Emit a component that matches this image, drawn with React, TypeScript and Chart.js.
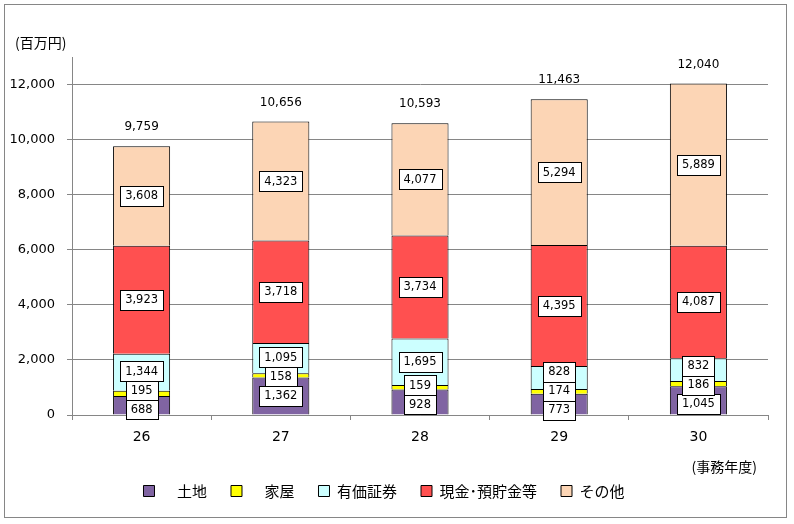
import { useEffect, useRef } from "react";
import { Chart, registerables } from "chart.js";

Chart.register(...registerables);

const categories = ["26", "27", "28", "29", "30"];
const land = [688, 1362, 928, 773, 1045];
const buildings = [195, 158, 159, 174, 186];
const securities = [1344, 1095, 1695, 828, 832];
const cash = [3923, 3718, 3734, 4395, 4087];
const others = [3608, 4323, 4077, 5294, 5889];
const totals = [9759, 10656, 10593, 11463, 12040];
const seriesLabels = ["　土地", "　家屋", "有価証券", "現金･預貯金等", "その他"];
const seriesColors = ["#8064A2", "#FFFF00", "#CCFFFF", "#FF5050", "#FCD5B5"];
const yTicks = [0, 2000, 4000, 6000, 8000, 10000, 12000];
const yUnit = "(百万円)";
const xUnit = "(事務年度)";

const fmt = (v: number) => v.toLocaleString("en-US");
const GRID = "#868686";
const JP = "'Noto Sans CJK JP', sans-serif";
const NUM = "'DejaVu Sans', sans-serif";

const framePlugin = {
  id: "frame",
  beforeDraw(chart: any) {
    const { ctx, width, height } = chart;
    ctx.save();
    ctx.fillStyle = "#fff";
    ctx.fillRect(0, 0, width, height);
    ctx.strokeStyle = GRID;
    ctx.lineWidth = 1;
    ctx.strokeRect(4.5, 4.5, 782, 513);
    ctx.restore();
  },
  afterDraw(chart: any) {
    const { ctx, chartArea } = chart;
    ctx.save();
    ctx.fillStyle = "#000";
    ctx.font = `14px ${JP}`;
    ctx.textBaseline = "middle";
    ctx.textAlign = "left";
    ctx.fillText(yUnit, chartArea.left - 57, chartArea.top - 14);
    ctx.textAlign = "right";
    ctx.fillText(xUnit, chartArea.right - 11, chartArea.bottom + 52);
    ctx.restore();
  },
};

const labelPlugin = {
  id: "segLabels",
  afterDatasetsDraw(chart: any) {
    const ctx = chart.ctx;
    ctx.save();
    ctx.textAlign = "center";
    ctx.textBaseline = "middle";
    const n = chart.data.labels.length;
    const H = 19;
    for (let i = 0; i < n; i++) {
      const items: { x: number; y: number; text: string }[] = [];
      let topY = Infinity;
      let cx = 0;
      chart.data.datasets.forEach((ds: any, di: number) => {
        const el = chart.getDatasetMeta(di).data[i];
        const { x, y, base } = el.getProps(["x", "y", "base"], true);
        items.push({ x, y: (y + base) / 2, text: fmt(ds.data[i]) });
        topY = Math.min(topY, y);
        cx = x;
      });
      items.sort((a, b) => b.y - a.y);
      for (let it = 0; it < 200; it++) {
        for (let k = 0; k < items.length - 1; k++) {
          const lo = items[k];
          const hi = items[k + 1];
          const d = lo.y - hi.y;
          if (d < H) {
            const o = (H - d) / 2;
            lo.y += o;
            hi.y -= o;
          }
        }
      }
      ctx.font = `11.5px ${NUM}`;
      items.forEach((it) => {
        const w = Math.round(ctx.measureText(it.text).width + 10);
        const h = 20;
        const bx = Math.round(it.x - w / 2) + 0.5;
        const by = Math.round(it.y - h / 2) + 0.5;
        ctx.fillStyle = "#fff";
        ctx.fillRect(bx, by, w, h);
        ctx.strokeStyle = "#000";
        ctx.lineWidth = 1;
        ctx.strokeRect(bx, by, w, h);
        ctx.fillStyle = "#000";
        ctx.fillText(it.text, it.x, it.y + 0.5);
      });
      ctx.font = `12px ${NUM}`;
      ctx.fillStyle = "#000";
      ctx.fillText(fmt(totals[i]), cx, topY - 19);
    }
    ctx.restore();
  },
};

export default function App() {
  const ref = useRef<HTMLCanvasElement | null>(null);
  useEffect(() => {
    if (!ref.current) return;
    const series = [land, buildings, securities, cash, others];
    const chart = new Chart(ref.current, {
      type: "bar",
      data: {
        labels: categories,
        datasets: series.map((d, i) => ({
          label: seriesLabels[i],
          data: d,
          backgroundColor: seriesColors[i],
          borderColor: "#000",
          borderWidth: { top: 1, left: 1, right: 1, bottom: 0 },
          borderSkipped: false,
          barPercentage: 0.41,
          categoryPercentage: 1.0,
        })),
      },
      options: {
        animation: false,
        responsive: true,
        maintainAspectRatio: false,
        layout: { padding: { top: 57, right: 26, bottom: 15.5, left: 0 } },
        plugins: {
          title: { display: false },
          tooltip: { enabled: false },
          legend: {
            position: "bottom",
            labels: {
              font: { family: JP, size: 15 },
              color: "#000",
              boxWidth: 11,
              boxHeight: 11,
              padding: 24,
              generateLabels: (c: any) =>
                (Chart.defaults.plugins.legend.labels as any)
                  .generateLabels(c)
                  .map((l: any) => ({ ...l, lineWidth: 1, strokeStyle: "#000" })),
            },
          },
        },
        scales: {
          x: {
            stacked: true,
            grid: {
              display: true,
              drawOnChartArea: false,
              drawTicks: true,
              tickLength: 5,
              offset: true,
              color: GRID,
            },
            border: { display: true, color: GRID },
            ticks: { font: { family: NUM, size: 14 }, color: "#000", padding: 9 },
            afterFit: (s: any) => {
              s.height = 44.5;
            },
          },
          y: {
            stacked: true,
            min: 0,
            max: 13000,
            grid: { tickLength: 5, color: GRID },
            border: { display: true, color: GRID },
            ticks: {
              font: { family: NUM, size: 13 },
              color: "#000",
              padding: 12,
              callback: (v: any) => fmt(Number(v)),
            },
            afterBuildTicks: (s: any) => {
              s.ticks = yTicks.map((v) => ({ value: v }));
            },
            afterFit: (s: any) => {
              s.width = 72;
            },
          },
        },
      },
      plugins: [framePlugin, labelPlugin],
    });
    return () => chart.destroy();
  }, []);
  return (
    <div style={{ position: "fixed", left: 0, top: 0, width: 794, height: 524 }}>
      <canvas ref={ref} />
    </div>
  );
}
